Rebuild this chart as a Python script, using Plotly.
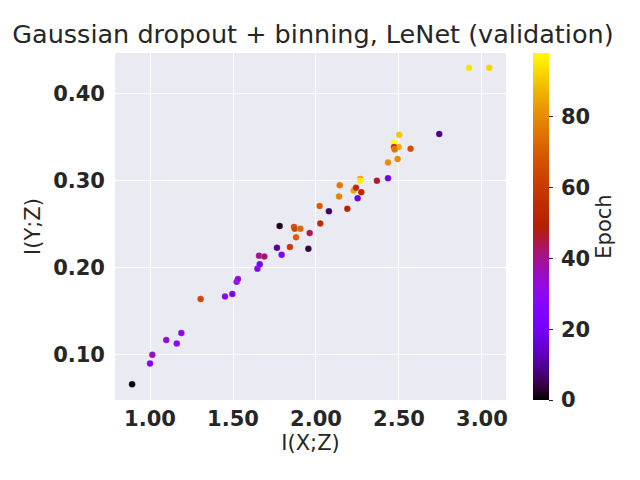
import numpy as np
import plotly.graph_objects as go

# I(X;Z), I(Y;Z), epoch
ixz = [0.892, 1.000, 1.014, 1.098, 1.161, 1.189, 1.305, 1.452, 1.496, 1.522,
       1.530, 1.647, 1.661, 1.657, 1.689, 1.765, 1.793, 1.843, 1.954, 1.962,
       1.781, 1.868, 1.872, 1.906, 1.880, 2.022, 2.078, 2.026, 2.143, 2.139,
       2.189, 2.227, 2.241, 2.273, 2.251, 2.267, 2.267, 2.367, 2.922, 3.044,
       2.743, 2.502, 2.470, 2.498, 2.470, 2.474, 2.570, 2.434, 2.492, 2.434]
iyz = [0.066, 0.090, 0.100, 0.117, 0.113, 0.125, 0.164, 0.167, 0.170, 0.184,
       0.187, 0.199, 0.204, 0.214, 0.213, 0.223, 0.215, 0.224, 0.222, 0.240,
       0.248, 0.247, 0.245, 0.245, 0.235, 0.271, 0.265, 0.251, 0.295, 0.282,
       0.268, 0.289, 0.292, 0.287, 0.280, 0.302, 0.300, 0.300, 0.430, 0.430,
       0.354, 0.353, 0.344, 0.339, 0.339, 0.336, 0.337, 0.321, 0.325, 0.303]
epoch = [0, 24, 36, 34, 28, 30, 64, 26, 22, 30,
         32, 24, 20, 40, 42, 10, 22, 60, 4, 44,
         2, 62, 64, 72, 70, 70, 6, 54, 76, 78,
         50, 84, 54, 52, 16, 82, 96, 46, 94, 92,
         8, 90, 98, 86, 58, 76, 66, 80, 80, 18]

x_ticks = [1.0, 1.5, 2.0, 2.5, 3.0]
y_ticks = [0.1, 0.2, 0.3, 0.4]
cbar_ticks = [0, 20, 40, 60, 80]

# matplotlib "gnuplot" colormap
t = np.linspace(0, 1, 41)
r = np.sqrt(t)
g = t ** 3
b = np.clip(np.sin(2 * np.pi * t), 0, 1)
gnuplot = [[float(tt), f"rgb({int(round(rr*255))},{int(round(gg*255))},{int(round(bb*255))})"]
           for tt, rr, gg, bb in zip(t, r, g, b)]

TXT = "#262626"
FONT = "DejaVu Sans"
fig = go.Figure(go.Scatter(
    x=ixz, y=iyz, mode="markers",
    marker=dict(size=6.5, color=epoch, colorscale=gnuplot, cmin=0, cmax=98,
                line=dict(width=0.3, color="rgba(255,255,255,0.5)"),
                colorbar=dict(
                    title=dict(text="Epoch", side="right",
                               font=dict(family=FONT, size=21, color=TXT)),
                    thickness=16, len=1, lenmode="fraction", y=0.5, yanchor="middle",
                    x=1.069, xanchor="left", outlinewidth=0, xpad=0, ypad=0,
                    tickvals=cbar_ticks,
                    ticktext=["\u2009" + str(v) for v in cbar_ticks],
                    ticks="outside", ticklen=4, tickcolor=TXT,
                    tickfont=dict(family=FONT, size=21, color=TXT, weight="bold"),
                )),
    showlegend=False,
))

fig.update_layout(
    width=640, height=480,
    margin=dict(l=107, r=142, t=45, b=88, autoexpand=False),
    paper_bgcolor="white", plot_bgcolor="#EAEAF2",
    title=dict(text="Gaussian dropout + binning, LeNet (validation)",
               x=0.4765, xanchor="center", y=0.946, yanchor="middle",
               font=dict(family=FONT, size=25.5, color=TXT)),
    font=dict(family=FONT, color=TXT),
)
fig.update_xaxes(range=[0.789, 3.145], tickvals=x_ticks, tickformat=".2f",
                 showgrid=True, gridcolor="white", gridwidth=1.3, zeroline=False,
                 showline=False, ticks="", automargin=False, ticklabelstandoff=4,
                 tickfont=dict(family=FONT, size=21, color=TXT, weight="bold"),
                 title=dict(text="I(X;Z)", standoff=4,
                            font=dict(family=FONT, size=21, color=TXT)))
fig.update_yaxes(range=[0.048, 0.447], tickvals=y_ticks, tickformat=".2f",
                 showgrid=True, gridcolor="white", gridwidth=1.3, zeroline=False,
                 showline=False, ticks="", automargin=False, ticklabelstandoff=9,
                 tickfont=dict(family=FONT, size=21, color=TXT, weight="bold"),
                 title=dict(text="I(Y;Z)", standoff=6,
                            font=dict(family=FONT, size=21, color=TXT)))

fig.write_html("out.html")
